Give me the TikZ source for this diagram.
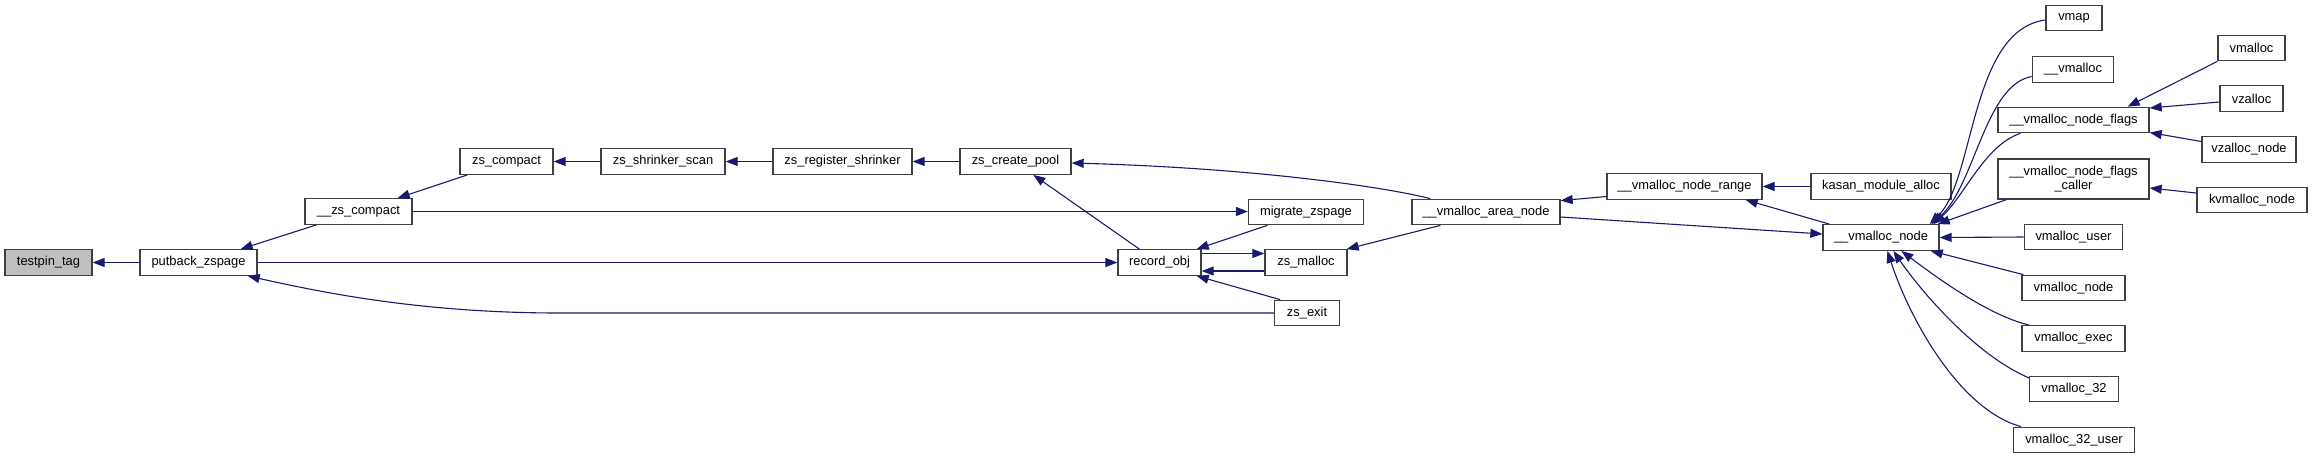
\documentclass[tikz,border=0pt]{standalone}
\usepackage{fontspec}
\setmainfont{Liberation Sans}
\usetikzlibrary{arrows.meta,calc}
\definecolor{edgeblue}{HTML}{191970}
\definecolor{boxgray}{HTML}{404040}
\definecolor{hlgray}{HTML}{BFBFBF}
\begin{document}
\begin{tikzpicture}[x=1pt,y=-1pt,
  box/.style={draw=boxgray, line width=1.3pt, fill=white, inner sep=0pt,
    minimum height=25.5, font=\fontsize{12.9}{14.5}\selectfont, align=center},
  hl/.style={box, fill=hlgray},
  edge/.style={draw=edgeblue, line width=1.1pt, -{Triangle[length=12,width=9]}}]
\useasboundingbox[fill=white] (0,0) rectangle (2312,459);
% nodes
\node[hl,  minimum width=87]  (testpin) at (48.5,262.5) {testpin\_tag};
\node[box, minimum width=117] (putback) at (198.5,262.5) {putback\_zspage};
\node[box, minimum width=107] (zsctwo)  at (358.5,211.5) {\_\_zs\_compact};
\node[box, minimum width=93]  (zsc)     at (506.5,161.5) {zs\_compact};
\node[box, minimum width=124] (scan)    at (663,161.5) {zs\_shrinker\_scan};
\node[box, minimum width=139] (reg)     at (842.5,161.5) {zs\_register\_shrinker};
\node[box, minimum width=111] (pool)    at (1015.5,161.5) {zs\_create\_pool};
\node[box, minimum width=115] (migrate) at (1306,212) {migrate\_zspage};
\node[box, minimum width=148] (area)    at (1486,212) {\_\_vmalloc\_area\_node};
\node[box, minimum width=83]  (record)  at (1159.5,262.5) {record\_obj};
\node[box, minimum width=82]  (zsmalloc) at (1306,262.5) {zs\_malloc};
\node[box, minimum width=64.5] (zsexit) at (1307,313) {zs\_exit};
\node[box, minimum width=155] (range)   at (1684.5,186.5) {\_\_vmalloc\_node\_range};
\node[box, minimum width=140] (kasan)   at (1881,186.5) {kasan\_module\_alloc};
\node[box, minimum width=116] (vnode)   at (1881,237.5) {\_\_vmalloc\_node};
\node[box, minimum width=56]  (vmap)    at (2074,18) {vmap};
\node[box, minimum width=81.5] (uvm)    at (2073,69.5) {\_\_vmalloc};
\node[box, minimum width=151] (flags)   at (2073.5,120) {\_\_vmalloc\_node\_flags};
\node[box, minimum width=151, minimum height=40] (caller) at (2073.5,179) {\_\_vmalloc\_node\_flags\\\_caller};
\node[box, minimum width=67]  (vmalloc) at (2251.5,48) {vmalloc};
\node[box, minimum width=63]  (vzalloc) at (2251.5,98.5) {vzalloc};
\node[box, minimum width=94]  (vzn)     at (2249,149.5) {vzalloc\_node};
\node[box, minimum width=110] (kvm)     at (2252,200) {kvmalloc\_node};
\node[box, minimum width=98.5] (vuser)  at (2073.5,237) {vmalloc\_user};
\node[box, minimum width=103] (vnodeb)  at (2073.5,288) {vmalloc\_node};
\node[box, minimum width=103] (vexec)   at (2073.5,338.5) {vmalloc\_exec};
\node[box, minimum width=88.5] (vtt)    at (2074,389) {vmalloc\_32};
\node[box, minimum width=120.5] (vttu)  at (2074,440) {vmalloc\_32\_user};
\coordinate (bend) at (560,313);
% edges (arrow at callee)
\draw[edge] (putback.west) -- (testpin.east);
\draw[edge] ($(zsctwo.south west)+(12,0)$) -- ($(putback.north east)+(-17,0)$);
\draw[edge] ($(zsc.south west)+(8,0)$) -- ($(zsctwo.north east)+(-15,0)$);
\draw[edge] (scan.west) -- (zsc.east);
\draw[edge] (reg.west) -- (scan.east);
\draw[edge] (pool.west) -- (reg.east);
\draw[edge] ($(area.north west)+(19,0)$) .. controls (1380,186) and (1250,168) .. ($(pool.east)+(0,1.5)$);
\draw[edge] ($(record.north west)+(22,0)$) -- ($(pool.south west)+(74,0)$);
\draw[edge] (zsctwo.east) -- (zsctwo.east -| migrate.west);
\draw[edge] (putback.east) -- (record.west);
\draw[edge] ($(migrate.south west)+(19.5,0)$) -- ($(record.north east)+(-5,0)$);
\draw[edge] ($(record.east)+(0,-9)$) -- ($(zsmalloc.west)+(0,-9)$);
\draw[edge] ($(zsmalloc.west)+(0,8.5)$) -- ($(record.east)+(0,8.5)$);
\draw[edge] ($(zsexit.north west)+(6,0)$) -- ($(record.south east)+(-5,0)$);
\draw[edge] (zsexit.west) -- (bend) .. controls (420,313) and (320,292) .. ($(putback.south east)+(-10,0)$);
\draw[edge] ($(range.west)+(0,10)$) -- ($(area.north east)+(0,2)$);
\draw[edge] (kasan.west) -- (range.east);
\draw[edge] ($(area.east)+(0,5)$) -- ($(vnode.west)+(0,-3.5)$);
\draw[edge] ($(vnode.north west)+(7,0)$) -- ($(range.south east)+(-17,0)$);
\draw[edge] ($(area.south west)+(29,0)$) -- ($(zsmalloc.north east)+(-1,0)$);
\draw[edge] ($(vmap.west)+(0,2)$) .. controls (1970,30) and (1975,180) .. ($(vnode.north east)+(-10,0)$);
\draw[edge] ($(uvm.west)+(0,7)$) .. controls (1985,85) and (1975,185) .. ($(vnode.north east)+(-8,0)$);
\draw[edge] ($(flags.south west)+(23,0)$) .. controls (1985,145) and (1965,195) .. ($(vnode.north east)+(-6,0)$);
\draw[edge] ($(caller.south west)+(9,0)$) -- ($(vnode.north east)+(-2,0)$);
\draw[edge] (vuser.west) -- (vnode.east);
\draw[edge] ($(vnodeb.north west)+(2,0)$) -- ($(vnode.south east)+(-9,0)$);
\draw[edge] ($(vexec.north west)+(8,0)$) .. controls (1990,316) and (1940,280) .. ($(vnode.south west)+(79,0)$);
\draw[edge] ($(vtt.west)+(0,-11)$) .. controls (1975,355) and (1920,290) .. ($(vnode.south west)+(71,0)$);
\draw[edge] ($(vttu.north west)+(8,0)$) .. controls (1960,410) and (1910,320) .. ($(vnode.south west)+(65,0)$);
\draw[edge] (vmalloc.south west) -- ($(flags.north east)+(-22,0)$);
\draw[edge] ($(vzalloc.west)+(0,3.5)$) -- ($(flags.east)+(0,-12)$);
\draw[edge] ($(vzn.west)+(0,-8)$) -- ($(flags.east)+(0,12.5)$);
\draw[edge] ($(kvm.west)+(0,-7)$) -- ($(caller.east)+(0,9)$);
\end{tikzpicture}
\end{document}
